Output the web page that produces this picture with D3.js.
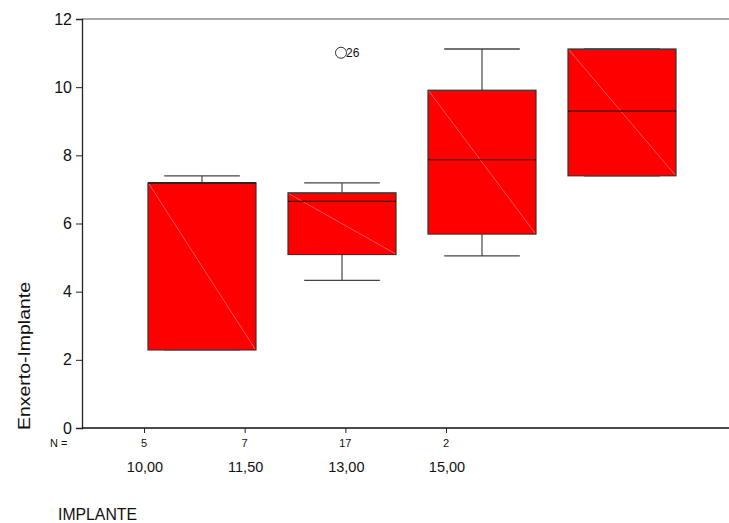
<!DOCTYPE html>
<html>
<head>
<meta charset="utf-8">
<script src="https://cdn.jsdelivr.net/npm/d3@7"></script>
<style>
  html, body { margin: 0; padding: 0; background: #fff; }
  svg { display: block; font-family: "Liberation Sans", Arial, sans-serif; }
</style>
</head>
<body>
<svg id="chart" width="729" height="523"></svg>
<script>
// ---- data ----
const categories = ["10,00", "11,50", "13,00", "15,00"];
const counts = [5, 7, 17, 2];
const whiskerLow = [2.29, 4.33, 5.05, 7.40];
const q1 = [2.29, 5.09, 5.69, 7.40];
const median = [7.19, 6.65, 7.87, 9.30];
const q3 = [7.19, 6.90, 9.91, 11.12];
const whiskerHigh = [7.40, 7.19, 11.12, 11.12];
const outlierCategory = ["11,50"];
const outlierValue = [11.01];
const outlierLabel = ["26"];
const yTicks = [0, 2, 4, 6, 8, 10, 12];

(function () {
const svg = d3.select("#chart");
const mLeft = 82, mRight = 729, mTop = 19, mBottom = 428;

const y = d3.scaleLinear().domain([0, 12]).range([mBottom, mTop]);
const xBox = d3.scaleBand().domain(categories).range([132, 692])
  .paddingInner(0.2286).paddingOuter(0.1143);
const xAxisPos = d3.scalePoint().domain(categories).range([144, 446]);

// frame top line
svg.append("line").attr("x1", mLeft).attr("x2", mRight).attr("y1", mTop).attr("y2", mTop)
  .attr("stroke", "#555").attr("stroke-width", 1.2);

// y axis
const yAxis = svg.append("g").attr("transform", `translate(${mLeft},0)`)
  .call(d3.axisLeft(y).tickValues(yTicks).tickSize(6).tickPadding(4).tickFormat(d3.format("d")));
yAxis.select(".domain").attr("stroke", "#222").attr("stroke-width", 1.3);
yAxis.selectAll(".tick line").attr("stroke", "#222");
yAxis.selectAll(".tick text").attr("font-size", 16).attr("fill", "#111")
  .attr("font-family", "'Liberation Sans', Arial, sans-serif");

// x axis baseline
svg.append("line").attr("x1", mLeft).attr("x2", mRight).attr("y1", mBottom).attr("y2", mBottom)
  .attr("stroke", "#111").attr("stroke-width", 1.5);
const xAxis = svg.append("g").attr("transform", `translate(0,${mBottom})`)
  .call(d3.axisBottom(xAxisPos).tickSize(5).tickFormat(""));
xAxis.select(".domain").remove();
xAxis.selectAll(".tick line").attr("stroke", "#222");

// N labels
svg.append("text").attr("x", 50).attr("y", 447).attr("font-size", 11).attr("fill", "#111").text("N =");
svg.selectAll(".nlab").data(categories).enter().append("text")
  .attr("class", "nlab")
  .attr("x", d => xAxisPos(d)).attr("y", 447)
  .attr("text-anchor", "middle").attr("font-size", 11).attr("fill", "#111")
  .text((d, i) => counts[i]);

// category labels
svg.selectAll(".clab").data(categories).enter().append("text")
  .attr("class", "clab")
  .attr("x", d => xAxisPos(d) + 1).attr("y", 472)
  .attr("text-anchor", "middle").attr("font-size", 14.5).attr("fill", "#111")
  .text(d => d);

// axis titles
svg.append("text").attr("x", 58).attr("y", 520).attr("font-size", 16.5).attr("fill", "#111")
  .attr("textLength", 79).attr("lengthAdjust", "spacingAndGlyphs").text("IMPLANTE");
svg.append("text").attr("transform", "translate(30,430) rotate(-90)")
  .attr("font-size", 16.5).attr("fill", "#111")
  .attr("textLength", 148).attr("lengthAdjust", "spacingAndGlyphs").text("Enxerto-Implante");

// boxes
const bw = xBox.bandwidth();
const capW = bw * 0.7;
const g = svg.append("g");
categories.forEach((c, i) => {
  const x0 = xBox(c), cx = x0 + bw / 2;
  const box = g.append("g");
  // whiskers
  box.append("line").attr("x1", cx).attr("x2", cx).attr("y1", y(whiskerHigh[i])).attr("y2", y(q3[i]))
    .attr("stroke", "#555").attr("stroke-width", 1.3);
  box.append("line").attr("x1", cx).attr("x2", cx).attr("y1", y(whiskerLow[i])).attr("y2", y(q1[i]))
    .attr("stroke", "#555").attr("stroke-width", 1.3);
  // box
  box.append("rect").attr("x", x0).attr("y", y(q3[i])).attr("width", bw)
    .attr("height", y(q1[i]) - y(q3[i]))
    .attr("fill", "#ff0000").attr("stroke", "#333").attr("stroke-width", 1.2);
  // diagonal highlight
  box.append("line").attr("x1", x0 + 1).attr("y1", y(q3[i]) + 1)
    .attr("x2", x0 + bw - 1).attr("y2", y(q1[i]) - 1)
    .attr("stroke", "#ff7070").attr("stroke-width", 0.8);
  // median
  box.append("line").attr("x1", x0).attr("x2", x0 + bw).attr("y1", y(median[i])).attr("y2", y(median[i]))
    .attr("stroke", "#300").attr("stroke-width", 1.2);
  // caps
  [whiskerHigh[i], whiskerLow[i]].forEach(v => {
    box.append("line").attr("x1", cx - capW / 2).attr("x2", cx + capW / 2)
      .attr("y1", y(v)).attr("y2", y(v)).attr("stroke", "#444").attr("stroke-width", 1.3);
  });
});

// outliers
outlierCategory.forEach((c, i) => {
  const cx = xBox(c) + bw / 2 - 1;
  svg.append("circle").attr("cx", cx).attr("cy", y(outlierValue[i])).attr("r", 5.5)
    .attr("fill", "none").attr("stroke", "#333").attr("stroke-width", 1);
  svg.append("text").attr("x", cx + 5).attr("y", y(outlierValue[i]) + 4.5)
    .attr("font-size", 12).attr("fill", "#111").text(outlierLabel[i]);
});
})();
</script>
</body>
</html>
